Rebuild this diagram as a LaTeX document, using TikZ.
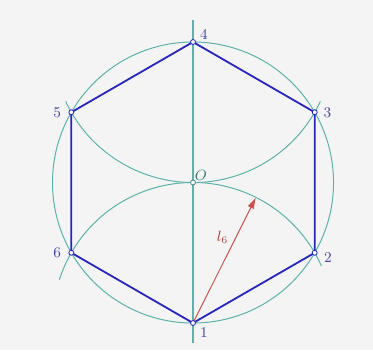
\documentclass[tikz,border=0pt]{standalone}
\usepackage{tikz}
\usetikzlibrary{arrows.meta,positioning,calc}
\definecolor{cons}{RGB}{90,178,170}
\definecolor{hexa}{RGB}{38,38,190}
\definecolor{lab}{RGB}{65,65,165}
\definecolor{rad}{RGB}{205,80,75}
\definecolor{paper}{RGB}{244,244,244}

\begin{document}
\begin{tikzpicture}[scale=1.0]
  \def\R{3}
  \fill[paper] (-4.121,-3.577) rectangle (3.843,3.897);
  \useasboundingbox (-4.121,-3.577) rectangle (3.843,3.897);
  \coordinate (O) at (0,0);
  \foreach \i/\a in {1/270,2/330,3/30,4/90,5/150,6/210}
    \coordinate (v\i) at (\a:\R);
  \coordinate (axtop) at (0,3.47);
  \coordinate (axbot) at (0,-3.43);
  % circumscribed circle and the two arcs of radius R
  \draw[cons,line width=0.6pt] (O) circle (\R);
  \draw[cons,line width=0.7pt] (axtop) -- (axbot);
  \draw[cons,line width=0.6pt] ($(v4)+(205:\R)$) arc (205:335:\R);
  \draw[cons,line width=0.6pt] ($(v1)+(162:\R)$) arc (162:24:\R);
  % the hexagon
  \draw[hexa,line width=1.1pt,line join=round] (v1) -- (v2) -- (v3) -- (v4) -- (v5) -- (v6) -- cycle;
  % side = radius
  \coordinate (tip) at ($(v1)+(63.4:\R)$);
  \draw[rad,line width=0.6pt,-{Latex[length=2.4mm,width=1.5mm]}] (v1) -- (tip)
    node[pos=0.68,left=1pt,text=rad!80!black,font=\small] (lbll) {$l_6$};
  % vertices
  \foreach \i in {1,...,6}
    \filldraw[hexa,fill=white,line width=0.5pt] (v\i) circle (1.5pt);
  \filldraw[cons!80!black,fill=white,line width=0.5pt] (O) circle (1.5pt);
  \node[lab,font=\small] (lbl4) at ($(v4)+(0.235,0.17)$) {4};
  \node[lab,font=\small] (lbl5) at ($(v5)+(-0.30,0)$) {5};
  \node[lab,font=\small] (lbl3) at ($(v3)+(0.27,0)$) {3};
  \node[lab,font=\small] (lbl6) at ($(v6)+(-0.30,0)$) {6};
  \node[lab,font=\small] (lbl2) at ($(v2)+(0.28,-0.11)$) {2};
  \node[lab,font=\small] (lbl1) at ($(v1)+(0.235,-0.21)$) {1};
  \node[cons!65!black,font=\small] (lblO) at ($(O)+(0.17,0.16)$) {$O$};
\end{tikzpicture}
\end{document}
